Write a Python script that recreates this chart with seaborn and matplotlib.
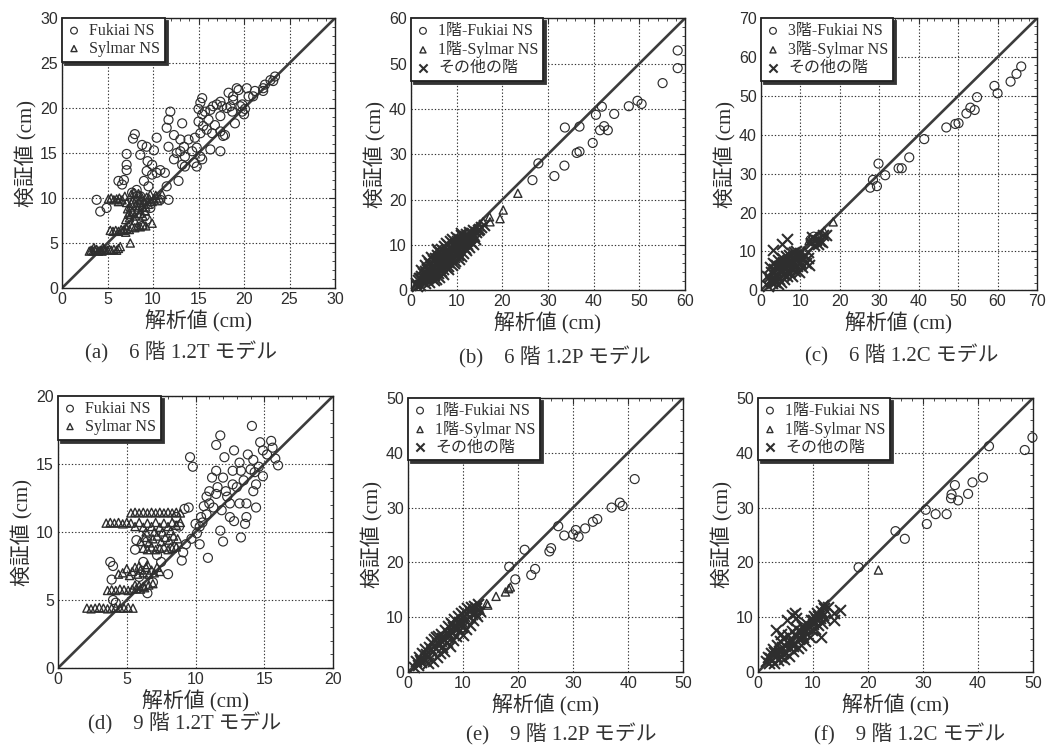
import numpy as np
import pandas as pd
import matplotlib
matplotlib.use("Agg")
import matplotlib.pyplot as plt
from matplotlib.ticker import MultipleLocator
import seaborn as sns

# ---------------- DATA ----------------
# (a) 6階 1.2T
A_FUKIAI = [(3.8,9.8),(4.2,8.5),(4.9,8.9),(6.2,11.9),(6.6,11.5),(7.1,14.9),(7.1,13.7),(7.1,13.1),(6.8,12.0),
            (7.8,16.6),(8.0,17.1),(8.8,15.9),(9.3,15.7),(8.6,14.8),(9.4,14.1),(10.1,15.3),(10.4,16.7),(9.9,13.7),
            (9.3,13.0),(9.9,12.6),(10.4,12.8),(10.8,13.1),(9.0,11.9),(9.5,11.3),(8.2,10.9),(10.8,9.8),(11.7,9.8),
            (11.5,11.3),(11.3,12.8),(11.7,18.7),(11.9,19.6),(11.5,17.8),(11.7,15.7),(12.3,17.0),(12.6,15.0),
            (12.3,14.3),(12.8,11.9),(13.2,18.3),(13.0,16.5),(13.4,15.7),(13.0,15.2),(13.5,14.6),(13.9,16.5),
            (13.2,13.7),(13.5,13.5),(14.3,15.2),(14.6,16.7),(14.8,15.6),(15.2,17.2),(15.0,18.5),(15.2,20.6),
            (15.4,21.1),(15.0,19.9),(15.4,19.3),(15.5,18.0),(15.9,17.6),(16.1,18.7),(15.7,19.6),(16.3,19.8),
            (16.6,20.2),(17.0,20.4),(17.4,20.7),(17.6,20.2),(17.4,19.1),(16.8,18.1),(16.5,17.2),(17.4,17.4),
            (17.7,16.9),(17.9,17.0),(17.4,15.2),(16.3,15.4),(15.4,14.3),(15.2,14.6),(14.5,13.9),(14.8,13.5),
            (18.3,21.7),(18.8,21.3),(19.2,22.2),(19.4,22.0),(18.1,20.0),(18.5,20.2),(18.7,19.6),(18.8,20.9),
            (19.0,18.3),(19.6,20.2),(19.8,19.6),(20.1,19.9),(20.3,22.2),(20.5,21.3),(21.0,21.3),(21.2,21.9),
            (22.1,22.2),(22.3,22.6),(22.1,21.9),(22.9,23.1),(23.4,23.5),(23.2,23.0),(19.8,20.4),(20.0,19.3),
            (7.7,10.6),(8.2,10.2),(8.6,10.2),(9.3,9.4),(9.7,8.9),(9.1,8.0),(9.3,7.6),(8.8,6.9)]
A_SYLMAR = [(3.0,4.1),(3.2,4.2),(3.4,4.1),(3.6,4.2),(3.8,4.3),(4.0,4.1),(4.2,4.2),(4.4,4.1),(4.6,4.3),(4.8,4.2),
            (5.0,4.2),(5.2,4.3),(5.4,4.2),(5.7,4.3),(6.0,4.2),(3.5,4.5),(4.5,4.5),(6.2,4.4),(6.4,4.6),(7.5,5.0),
            (5.3,6.4),(5.6,6.3),(5.9,6.4),(6.2,6.3),(6.5,6.5),(6.8,6.4),(7.1,6.6),(7.4,6.5),(7.7,6.8),(8.0,6.7),
            (8.3,6.9),(8.6,6.8),(8.9,7.0),(9.2,6.9),(9.9,7.2),(7.0,6.2),
            (5.1,9.9),(5.4,10.0),(5.7,9.8),(6.0,9.9),(6.3,10.0),(6.6,9.8),(6.2,9.6),(6.9,10.2),(7.1,9.5),(7.2,8.8),
            (7.3,8.2),(7.5,9.0),(7.6,10.4),(7.7,8.5),(7.8,9.8),(7.9,10.6),(8.0,8.0),(8.1,9.2),(8.2,10.0),(8.3,8.7),
            (8.4,10.5),(8.5,9.5),(8.6,8.3),(8.7,10.2),(8.8,9.0),(9.0,9.7),(9.1,8.6),(9.3,10.1),(9.5,9.3),(9.7,10.4),
            (9.9,9.6),(10.1,9.9),(10.3,10.3),(10.5,9.7),(10.7,10.0),(11.0,10.4),(7.4,7.8),(7.0,7.6),(8.9,8.0),(8.0,7.5),
            (7.6,9.4),(8.4,9.0),(9.2,9.0),(7.4,8.4),(8.6,9.8),(9.6,9.9)]

# (b) 6階 1.2P
B_FUKIAI = [(26.6,24.3),(27.9,28.0),(31.4,25.2),(33.6,27.5),(33.7,35.9),(36.3,30.3),(36.9,30.6),(36.9,36.1),
            (39.8,32.5),(40.5,38.7),(41.8,40.5),(41.4,35.3),(42.3,36.2),(43.1,35.3),(44.5,38.9),(47.7,40.6),
            (49.6,41.8),(50.5,41.1),(55.1,45.7),(58.4,52.9),(58.4,49.0)]
B_SYLMAR = [(23.4,21.4),(20.2,17.7),(19.5,15.8),(17.3,15.1),(17.2,16.2),(15.8,15.1),(15.1,14.0),(14.4,13.3),
            (13.5,12.6),(12.8,12.0)]
B_OTHER = [(1.0,1.5),(1.5,2.2),(2.0,1.2),(1.8,2.8),(2.5,2.0),(2.3,3.2),(3.0,1.6),(2.8,2.6),
           (3.2,3.5),(3.5,2.4),(3.0,4.2),(3.8,3.0),(4.0,1.9),(3.4,5.0),(4.2,4.0),(4.5,2.6),
           (4.6,5.2),(4.0,6.0),(5.0,3.4),(5.3,4.5),(4.8,6.6),(5.5,2.5),(5.6,5.8),(5.2,7.2),(6.0,3.8),
           (6.2,5.0),(5.8,7.8),(6.4,6.6),(6.6,4.2),(6.0,8.6),(6.9,5.8),(6.8,7.6),(7.0,3.6),(6.5,9.2),
           (7.2,6.8),(7.4,8.4),(7.6,5.2),(7.2,9.8),(7.8,7.4),(8.0,4.6),(7.9,9.0),(8.2,6.2),(7.6,10.4),
           (8.4,8.0),(8.6,9.6),(8.8,6.8),(8.5,10.8),(9.0,5.6),(9.1,8.6),(9.2,10.2),(9.4,7.4),(8.9,11.4),(9.6,6.4),
           (9.8,9.2),(10.0,10.8),(10.2,7.8),(9.9,11.8),(10.4,8.8),(10.6,11.2),(10.5,6.8),(10.8,9.8),(10.9,12.2),
           (11.2,10.6),(11.4,8.2),(11.0,12.6),(11.6,11.6),(11.8,9.4),(12.0,12.4),(12.2,10.2),(12.4,11.0),
           (12.0,8.8),(12.6,12.8),(13.0,11.8),(13.2,10.6),(13.4,12.6),(13.8,12.0),(14.2,12.8),(14.0,11.2),
           (14.6,13.2),(15.0,13.6),(15.4,14.0),(16.0,14.5),(13.6,13.4),
           (2.0,2.6),(3.6,4.6),(5.8,6.4),(7.0,7.0),(8.2,8.6),(9.6,9.8),(10.2,9.6),(11.0,11.0),(6.4,5.6),
           (5.0,5.0),(4.4,3.6),(7.8,8.0),(9.0,9.2),(11.6,10.4),(12.8,11.6),(3.0,3.0),(1.4,1.0),(2.6,3.8),
           (8.0,10.0),(10.0,8.4),(4.0,4.8),(5.4,6.8),(6.6,8.0),(7.4,6.0),(8.6,7.4),(10.4,10.4),(11.8,12.0),
           (12.4,12.0),(5.0,2.2),(6.2,3.0),(3.6,6.6),(2.2,4.4),(5.6,9.0),(7.0,4.6),(8.2,5.4),(9.4,6.0),
           (11.0,7.6),(12.6,9.6),(13.6,10.2),(4.4,7.4),(3.0,5.6)]

# (c) 6階 1.2C
C_FUKIAI = [(27.7,26.4),(28.4,28.4),(29.4,26.8),(29.8,32.6),(31.5,29.6),(34.9,31.4),(35.7,31.4),(37.6,34.2),
            (41.4,38.9),(47.0,41.9),(49.3,42.8),(50.1,43.0),(52.1,45.5),(53.1,47.0),(54.2,46.4),(54.8,49.7),
            (59.2,52.6),(60.0,50.7),(63.3,53.7),(64.8,55.7),(66.0,57.6),(12.6,13.0),(13.4,13.8)]
C_SYLMAR = [(18.3,17.6),(14.6,14.0),(16.0,15.2),(12.2,12.8)]
C_OTHER = [(1.8,1.2),(2.2,2.6),(1.6,3.8),(2.8,1.8),(2.6,4.6),(3.2,3.2),(2.4,6.0),(3.6,2.2),(3.4,5.4),(3.0,7.0),
           (4.0,4.0),(4.2,1.6),(3.8,6.6),(4.4,7.8),(4.6,3.0),(4.8,5.2),(5.0,2.2),(5.2,6.4),(5.4,8.2),(5.6,4.2),
           (5.8,3.0),(6.0,7.2),(6.2,5.4),(6.4,8.8),(6.6,3.6),(6.8,6.4),(7.0,9.2),(7.2,4.6),(7.4,7.6),(7.6,5.8),
           (7.8,3.8),(8.0,8.6),(8.2,6.8),(8.4,9.8),(8.6,5.0),(8.8,7.8),(9.0,10.2),(9.2,6.2),(9.4,8.8),(9.6,4.6),
           (9.8,7.2),(10.0,9.6),(10.4,6.0),(10.6,8.2),(11.0,9.0),(11.4,7.0),(11.8,8.4),(12.2,6.6),(12.0,9.8),
           (5.0,5.0),(6.0,6.0),(7.0,7.0),(4.0,5.8),(3.0,4.4),(2.0,3.4),(8.0,7.2),(9.0,9.0),(10.0,7.4),(6.6,5.0),
           (5.6,7.2),(4.6,6.2),(7.8,9.6),(3.4,2.6),(2.6,2.4),
           (3.1,10.3),(5.2,12.0),(6.5,13.3),(12.6,12.2),(13.4,11.6),(14.0,13.0),(15.0,12.6),(15.8,14.2),
           (15.4,12.4),(13.0,13.6),(14.4,12.0),(16.5,14.2)]

# (d) 9階 1.2T
D_FUKIAI = [(3.8,7.8),(4.0,7.5),(3.9,6.5),(4.0,5.0),(4.2,4.8),(5.6,8.7),(5.7,9.4),(6.5,9.3),(6.2,7.8),(5.9,6.7),
            (6.5,5.5),(6.9,6.3),(7.5,7.8),(8.0,6.9),(7.2,8.3),(8.4,8.9),(9.0,7.9),(9.1,8.5),(9.2,11.7),(9.5,11.8),
            (9.6,15.5),(9.8,14.8),(9.3,9.1),(9.7,9.5),(10.1,9.9),(10.3,9.1),(10.5,10.7),(10.4,11.1),(10.8,11.3),
            (10.8,12.6),(10.9,8.1),(11.2,14.0),(11.5,16.4),(11.8,17.1),(11.5,14.5),(11.6,13.3),(11.3,11.8),
            (11.8,10.1),(12.0,9.3),(12.1,15.5),(12.0,14.0),(12.2,13.0),(12.5,12.1),(12.5,11.1),(12.7,14.5),
            (12.8,16.0),(13.2,15.1),(13.3,14.5),(13.0,13.3),(13.2,12.1),(13.3,9.6),(13.6,10.6),(13.7,11.1),
            (13.7,12.1),(13.8,15.7),(14.1,17.8),(14.2,15.3),(14.3,14.4),(14.4,13.5),(14.4,11.8),(14.7,16.6),
            (14.9,16.0),(14.9,14.1),(15.5,16.7),(15.6,16.2),(15.8,15.4),(16.0,14.9),(15.2,15.7),(14.6,14.8),
            (14.2,13.0),(12.7,13.5),(11.5,12.8),(11.0,12.1),(10.3,10.4),(8.8,10.4),(8.6,11.1),
            (11.0,13.0),(12.3,12.6),(13.5,13.8),(10.6,11.9),(11.9,11.6),(12.8,10.8),(14.0,14.6),(10.0,10.6)]
D_SYLMAR = [(2.1,4.4),(2.4,4.35),(2.7,4.4),(3.0,4.45),(3.3,4.4),(3.6,4.35),(3.9,4.4),(4.2,4.45),(4.5,4.4),
            (4.8,4.4),(5.1,4.45),(5.45,4.4),
            (3.6,5.7),(3.9,5.75),(4.2,5.7),(4.5,5.8),(4.8,5.75),(5.1,5.7),(5.4,5.8),(5.7,5.85),(6.0,5.8),
            (6.3,5.9),(5.6,6.1),(5.9,6.05),(6.2,6.0),(6.6,6.1),(6.9,6.2),
            (4.4,6.9),(4.7,7.0),(5.0,7.3),(5.2,6.8),(5.4,7.1),(5.6,7.4),(5.8,6.9),(6.0,7.2),(6.2,7.0),(6.4,7.4),
            (6.6,6.9),(6.8,7.2),(7.0,7.0),(7.2,7.4),(7.4,7.1),(5.9,7.5),(6.5,7.6),
            (6.2,8.8),(6.5,8.7),(6.8,8.9),(7.1,8.7),(7.4,8.8),(7.7,8.9),(8.0,8.7),(8.3,8.8),(8.6,8.9),
            (6.0,9.3),(6.3,9.6),(6.6,9.2),(6.9,9.5),(7.2,9.7),(7.5,9.3),(7.8,9.6),(8.1,9.4),(8.4,9.7),(8.7,9.5),
            (6.4,10.0),(7.0,10.0),(7.6,10.0),(8.2,10.1),
            (3.5,10.65),(3.8,10.7),(4.1,10.65),(4.4,10.7),(4.7,10.6),(5.0,10.7),(5.3,10.65),(5.6,10.4),
            (5.9,10.7),(6.2,10.35),(6.5,10.65),(6.8,10.4),(7.1,10.7),(7.4,10.35),(7.7,10.65),(8.0,10.4),
            (8.3,10.7),(8.6,10.5),(8.9,10.7),
            (5.3,11.4),(5.6,11.45),(5.9,11.4),(6.2,11.45),(6.5,11.4),(6.8,11.45),(7.1,11.4),(7.4,11.45),
            (7.7,11.4),(8.0,11.45),(8.3,11.4),(8.6,11.45),(8.9,11.4)]

# (e) 9階 1.2P
E_FUKIAI = [(18.4,19.2),(19.5,16.9),(21.2,22.3),(22.4,17.7),(23.1,18.8),(25.7,22.0),(26.0,22.6),(27.3,26.6),
            (28.4,24.9),(30.0,25.1),(30.5,25.9),(31.0,24.7),(32.2,26.2),(33.6,27.4),(34.4,27.9),(37.0,30.0),
            (38.5,30.9),(39.0,30.3),(41.2,35.2),(12.5,10.8)]
E_SYLMAR = [(14.5,12.2),(14.3,12.5),(16.0,13.8),(17.7,14.6),(18.3,15.2),(18.6,15.5),(13.1,11.3)]
E_OTHER = [(1.0,1.0),(1.4,2.0),(1.8,1.2),(2.0,2.8),(2.4,1.8),(2.6,3.4),(3.0,2.2),(3.0,4.2),(3.4,3.0),(3.6,1.6),
           (3.8,4.6),(4.0,2.6),(4.2,5.4),(4.4,3.6),(4.6,2.0),(4.8,6.0),(5.0,4.4),(5.2,2.8),(5.4,6.6),(5.6,5.2),
           (5.8,3.4),(6.0,7.0),(6.2,4.6),(6.4,6.0),(6.6,3.8),(6.8,7.6),(7.0,5.4),(7.2,8.4),(7.4,6.6),(7.6,4.8),
           (7.8,9.0),(8.0,7.2),(8.2,5.8),(8.4,9.6),(8.6,8.0),(8.8,6.6),(9.0,10.2),(9.2,7.4),(9.4,9.0),(9.6,10.8),
           (9.8,8.2),(10.0,6.8),(10.2,11.2),(10.4,9.4),(10.6,7.8),(10.8,11.6),(11.0,10.0),(11.2,8.6),(11.4,11.8),
           (11.6,10.6),(11.8,9.4),(12.0,12.0),(12.2,10.8),(12.4,11.6),(12.6,10.2),(3.2,3.2),(4.2,4.2),(5.2,5.2),
           (6.2,6.2),(7.2,7.2),(8.2,8.2),(9.2,9.2),(10.2,10.2),(11.2,11.2),(2.2,2.2),(5.0,6.4),(6.0,5.6),
           (7.0,6.4),(8.0,8.8),(9.0,8.0),(10.0,9.0),(12.8,12.4),(13.0,11.2)]

# (f) 9階 1.2C
F_FUKIAI = [(18.3,19.1),(25.0,25.7),(26.7,24.3),(30.5,29.6),(30.7,27.0),(32.3,28.8),(34.3,28.8),(35.1,31.7),
            (35.2,32.4),(35.8,34.1),(36.4,31.3),(38.2,32.5),(39.0,34.6),(40.9,35.5),(42.0,41.2),(48.5,40.5),
            (49.9,42.8)]
F_SYLMAR = [(21.9,18.6)]
F_OTHER = [(1.4,2.0),(1.8,2.8),(2.0,1.6),(2.4,3.4),(2.6,2.2),(2.8,4.2),(3.0,1.6),(3.2,3.0),(3.4,5.0),(3.6,2.2),
           (3.8,3.8),(4.0,5.6),(4.2,2.8),(4.4,4.6),(4.6,6.2),(4.8,2.4),(5.0,3.6),(5.2,5.4),(5.4,6.8),(5.6,3.0),
           (5.8,4.4),(6.0,6.0),(6.2,7.4),(6.4,3.8),(6.6,5.2),(6.8,6.8),(7.0,8.0),(7.2,4.4),(7.4,6.0),(7.6,7.4),
           (7.8,5.0),(8.0,8.4),(8.2,6.4),(8.4,7.8),(8.6,5.6),(8.8,9.0),(9.0,7.0),(9.2,8.4),(9.4,6.4),(9.6,9.4),
           (9.8,7.6),(10.0,8.8),(10.2,10.2),(10.4,7.8),(10.6,9.6),(10.8,10.8),(11.0,8.6),(11.2,9.8),(11.4,11.2),
           (11.6,9.0),(11.8,10.4),(12.0,11.6),(12.2,9.6),(2.2,2.6),(3.0,3.6),(4.0,4.2),(5.0,4.8),(6.0,5.4),
           (7.0,6.6),(8.0,7.0),(9.0,8.0),(10.0,9.4),(11.0,10.2),(4.6,3.4),(6.4,4.8),(7.6,6.2),
           (3.2,7.7),(5.2,9.5),(6.1,10.4),(6.7,10.7),(7.0,9.8),(11.5,6.4),(12.7,11.9),(13.9,10.7),(13.9,9.5),
           (15.0,11.3),(11.8,12.2),(4.2,7.0)]

# axis limits / major tick steps
LIMITS = [30, 60, 70, 20, 50, 50]
STEPS = [5, 10, 10, 5, 10, 10]
LEGENDS = [["Fukiai NS", "Sylmar NS"],
           ["1階-Fukiai NS", "1階-Sylmar NS", "その他の階"],
           ["3階-Fukiai NS", "3階-Sylmar NS", "その他の階"],
           ["Fukiai NS", "Sylmar NS"],
           ["1階-Fukiai NS", "1階-Sylmar NS", "その他の階"],
           ["1階-Fukiai NS", "1階-Sylmar NS", "その他の階"]]
CAPTIONS = ["(a)    6 階 1.2T モデル", "(b)    6 階 1.2P モデル", "(c)    6 階 1.2C モデル",
            "(d)    9 階 1.2T モデル", "(e)    9 階 1.2P モデル", "(f)    9 階 1.2C モデル"]
XLABEL = "解析値 (cm)"
YLABEL = "検証値 (cm)"
SERIES = [(A_FUKIAI, A_SYLMAR, None), (B_FUKIAI, B_SYLMAR, B_OTHER), (C_FUKIAI, C_SYLMAR, C_OTHER),
          (D_FUKIAI, D_SYLMAR, None), (E_FUKIAI, E_SYLMAR, E_OTHER), (F_FUKIAI, F_SYLMAR, F_OTHER)]

# ---------------- STYLE / LAYOUT ----------------
sns.set_style("white")
plt.rcParams['font.family'] = ['Liberation Sans', 'Noto Sans CJK JP']
INK = '#2e2e2e'
SERIF_CJK = ['Liberation Serif', 'Noto Sans CJK JP']

AX_POS = [(0.0589, 0.617, 0.2593, 0.359), (0.3903, 0.614, 0.2602, 0.3617), (0.7227, 0.614, 0.2621, 0.3617),
          (0.0551, 0.1117, 0.2612, 0.3617), (0.3875, 0.1064, 0.2612, 0.3644), (0.7198, 0.1064, 0.2612, 0.3644)]
CAP_POS = [(0.172, 0.531), (0.527, 0.525), (0.856, 0.527), (0.175, 0.038), (0.533, 0.023), (0.864, 0.023)]

fig = plt.figure(figsize=(10.53, 7.52), dpi=100)
fig.patch.set_facecolor('white')


def df_of(pts):
    arr = np.array(pts, dtype=float)
    return pd.DataFrame({'x': arr[:, 0], 'y': arr[:, 1]})


for i in range(6):
    ax = fig.add_axes(AX_POS[i])
    lim = LIMITS[i]
    fuk, syl, oth = SERIES[i]
    labels = LEGENDS[i]

    # diagonal 1:1 line
    diag = pd.DataFrame({'x': [0, lim], 'y': [0, lim]})
    sns.lineplot(data=diag, x='x', y='y', ax=ax, color='#3c3c3c', lw=1.9, zorder=2, legend=False)

    sns.scatterplot(data=df_of(fuk), x='x', y='y', ax=ax, marker='o', s=42, facecolor='none',
                    edgecolor=INK, linewidth=0.85, label=labels[0], zorder=3, clip_on=False)
    sns.scatterplot(data=df_of(syl), x='x', y='y', ax=ax, marker='^', s=34, facecolor='none',
                    edgecolor=INK, linewidth=1.0, label=labels[1], zorder=3, clip_on=False)
    if oth is not None:
        sns.scatterplot(data=df_of(oth), x='x', y='y', ax=ax, marker='x', s=62, color=INK,
                        linewidth=1.5, label=labels[2], zorder=3, clip_on=False)

    ax.set_xlim(0, lim)
    ax.set_ylim(0, lim)
    ax.xaxis.set_major_locator(MultipleLocator(STEPS[i]))
    ax.yaxis.set_major_locator(MultipleLocator(STEPS[i]))
    ax.xaxis.set_minor_locator(MultipleLocator(STEPS[i] / 5))
    ax.yaxis.set_minor_locator(MultipleLocator(STEPS[i] / 5))
    ax.tick_params(which='both', direction='in', top=True, right=True, colors=INK, labelcolor=INK)
    ax.tick_params(which='major', length=4, width=0.8, labelsize=11.5, pad=3)
    ax.tick_params(which='minor', length=2.5, width=0.6)
    ax.grid(True, which='major', linestyle=(0, (1.2, 1.8)), color='#333333', linewidth=0.8)
    ax.set_axisbelow(True)
    for sp in ax.spines.values():
        sp.set_color('#222222')
        sp.set_linewidth(1.0)

    ax.set_xlabel(XLABEL, family=SERIF_CJK, fontsize=15, color=INK, labelpad=2)
    ax.set_ylabel(YLABEL, family=SERIF_CJK, fontsize=15, color=INK, labelpad=2)

    leg = ax.legend(loc='upper left', borderaxespad=0, frameon=True, fancybox=False,
                    edgecolor='#222222', facecolor='white', framealpha=1,
                    shadow={'ox': 2.2, 'oy': -2.2, 'facecolor': '#333333', 'edgecolor': '#333333', 'alpha': 1},
                    prop={'family': SERIF_CJK, 'size': 11.5}, handlelength=0.9, handletextpad=0.5,
                    labelspacing=0.12, borderpad=0.3, markerscale=0.75)
    leg.get_frame().set_linewidth(1.3)
    for t in leg.get_texts():
        t.set_color(INK)
    leg.set_zorder(5)

    fig.text(CAP_POS[i][0], CAP_POS[i][1], CAPTIONS[i], ha='center', va='center',
             family=SERIF_CJK, fontsize=15, color='#333333')

fig.savefig('out.png', dpi=100, facecolor='white')
